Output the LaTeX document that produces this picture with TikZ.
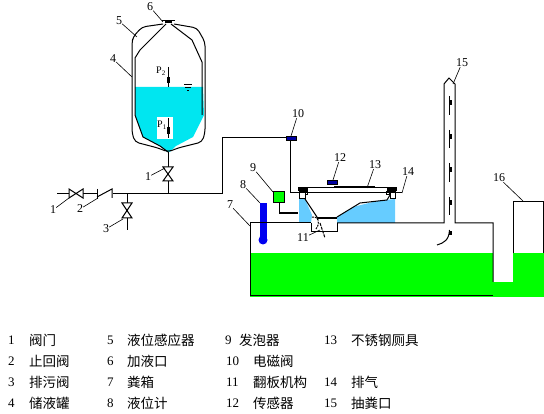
\documentclass[tikz,border=0pt]{standalone}
\usepackage{fontspec}
\setmainfont{Liberation Serif}
\newfontfamily\cjk{Noto Sans CJK SC}
\usepackage{xcolor}
\definecolor{liquidcyan}{HTML}{00E6F0}
\definecolor{bowlblue}{HTML}{66CCFF}
\definecolor{wastegreen}{HTML}{00FF00}
\definecolor{gaugeblue}{HTML}{0000F0}
\definecolor{valveblue}{HTML}{0000A0}
\tikzset{
    pipe/.style={draw=black, line width=1pt},
    thickpipe/.style={draw=black, line width=2pt},
    leader/.style={draw=black, line width=0.6pt},
    partno/.style={inner sep=0pt, font=\fontsize{12}{14}\selectfont},
    pressure/.style={inner sep=0pt, font=\fontsize{10}{11}\selectfont},
    legendno/.style={inner sep=0pt, anchor=west, font=\fontsize{13}{15}\selectfont},
    legendtext/.style={inner sep=0pt, anchor=west, font=\cjk\fontsize{13.5}{15}\selectfont},
    valvebody/.style={draw=black, fill=white, line width=1pt},
    signalbox/.style={draw=black, fill=valveblue, line width=0.6pt},
}
\begin{document}
\begin{tikzpicture}[x=1pt, y=-1pt]
    \useasboundingbox (0,0) rectangle (544,414);

    \fill[liquidcyan] (135,87) -- (203,87) -- (204,115) -- (193,137) -- (176,146) -- (170,152) -- (167,152) -- (160,146) -- (143,137) -- (135,115) -- cycle;
    \fill[white] (157,117) rectangle (173,139);
    \fill[bowlblue] (299,199) -- (305,199) -- (312,215) -- (311,223) -- (299,223) -- cycle;
    \fill[bowlblue] (337,223) -- (337,217) -- (353,207) -- (377,201) -- (395,199) -- (395,223) -- cycle;
    \fill[wastegreen] (250,253) rectangle (493,297);
    \fill[wastegreen] (493,282) rectangle (513,297);
    \fill[wastegreen] (513,253) rectangle (544,297);

    \draw[pipe, rounded corners=4pt] (163,24) -- (142,27) -- (133,37) -- (132,43) -- (132,133) -- (135,142) -- (158,148) -- (168,152) -- (178,148) -- (202,142) -- (205,133) -- (205,42) -- (197,28) -- (174,24);
    \draw[pipe] (166,24) -- (140,50) -- (135,58) -- (135,115) -- (143,137) -- (160,146) -- (168,152);
    \draw[pipe] (171,24) -- (192,40) -- (202,62) -- (202,115);
    \draw[pipe] (162,20.5) -- (175,20.5);
    \draw[thickpipe] (165,22) -- (172,22);
    \draw[pipe] (168,67) -- (168,87);
    \fill (167,77) rectangle (170,83);
    \draw[pipe] (168,118) -- (168,138);
    \fill (167,127) rectangle (170,134);
    \draw[pipe] (184,85) -- (192,85);
    \draw[pipe] (185,88) -- (191,88);
    \draw[pipe] (187,91) -- (189,91);
    \node[pressure] (ptwo) at (161,71) {P\textsubscript{2}};
    \node[pressure] (pone) at (162,125) {P\textsubscript{1}};

    \draw[pipe] (57,194) -- (69,194);
    \draw[pipe] (83,194) -- (97,194);
    \draw[pipe] (97,189) -- (97,199);
    \draw[pipe] (97,197) -- (112,189) -- (112,198);
    \draw[pipe] (113,194) -- (222,194) -- (222,138) -- (286,138);
    \draw[pipe] (168,152) -- (168,194);
    \draw[valvebody] (163,167) -- (173,167) -- (163,181) -- (173,181) -- cycle;
    \draw[valvebody] (69,189) -- (69,198) -- (83,189) -- (83,198) -- cycle;
    \draw[pipe] (127,194) -- (127,230);
    \draw[valvebody] (122,203) -- (132,203) -- (122,218) -- (132,218) -- cycle;

    \draw[signalbox] (286,136) rectangle (296,140);
    \draw[pipe] (290,140) -- (290,193) -- (298,193);
    \draw[pipe] (279,203) -- (279,213);
    \draw[thickpipe] (279,213) -- (298,213);
    \draw[fill=wastegreen, line width=1pt] (273,192) rectangle (284,203);
    \fill[gaugeblue] (260,203) rectangle (267,240);
    \fill[gaugeblue] (263,240) circle (4.5);

    \draw[pipe] (298,188) -- (397,188);
    \draw[thickpipe] (334,187.5) -- (375,187.5);
    \draw[pipe] (307,188) rectangle (387,193);
    \draw[pipe] (298,193) -- (402,193);
    \fill (298,187.5) rectangle (307,191);
    \fill (387,187.5) rectangle (397,191);
    \draw[pipe] (305,192) rectangle (307,195);
    \draw[pipe] (386,192) rectangle (389,195);
    \draw[pipe] (299,192) rectangle (305,199);
    \draw[pipe] (390,192) rectangle (395,199);
    \draw[pipe] (305,199) -- (317,217);
    \draw[pipe] (337,217) -- (360,203) -- (387,200) -- (390,195);
    \draw[thickpipe] (317,218) -- (337,218);
    \draw[signalbox] (327,180) rectangle (337,184);

    \draw[pipe] (250,296) -- (250,223) -- (311,223);
    \draw[pipe] (311,223) -- (311,232) -- (337,232) -- (337,223);
    \draw[pipe] (337,223) -- (444,223) -- (444,84) -- (449,78) -- (455,84) -- (455,223) -- (493,223) -- (493,282);
    \draw[pipe] (250,296) -- (493,296);
    \draw[pipe] (513,253) -- (513,202) -- (543,202) -- (543,253);
    \draw[pipe, dash pattern=on 2pt off 1pt] (312,217) .. controls (318,216) and (321,222) .. (316,229);
    \draw[pipe, dash pattern=on 3pt off 1pt] (320,223) -- (325,238);

    \draw[pipe] (449.5,96) -- (449.5,115);
    \fill (448.5,100) rectangle (451.5,105);
    \draw[pipe] (449.5,130) -- (449.5,148);
    \fill (448.5,134) rectangle (451.5,139);
    \draw[pipe] (449.5,163) -- (449.5,182);
    \fill (448.5,167) rectangle (451.5,172);
    \draw[pipe] (449.5,197) -- (449.5,215);
    \fill (448.5,200) rectangle (451.5,205);
    \draw[pipe] (449.5,230) .. controls (449,240) and (444,243) .. (437,245);
    \fill (448.5,231) rectangle (451.5,235);

    \coordinate (tipfive) at (137,37);
    \coordinate (tipsix) at (163,22);
    \coordinate (tipfour) at (132,77);
    \coordinate (tiponeup) at (165,168);
    \coordinate (tiponeleft) at (69,198);
    \coordinate (tiptwo) at (98,198);
    \coordinate (tipthree) at (123,219);
    \coordinate (tipten) at (291,136);
    \coordinate (tipnine) at (273,192);
    \coordinate (tipeight) at (260,203);
    \coordinate (tipseven) at (250,226);
    \coordinate (tiptwelve) at (333,180);
    \coordinate (tipthirteen) at (367,188);
    \coordinate (tipfourteen) at (402,193);
    \coordinate (tipeleven) at (320,230);
    \coordinate (tipfifteen) at (453,84);
    \coordinate (tipsixteen) at (523,201);

    \node[partno] (partsix) at (150,7) {6};
    \node[partno] (partfive) at (119,21) {5};
    \node[partno] (partfour) at (113,59) {4};
    \node[partno] (partoneup) at (148,177) {1};
    \node[partno] (partoneleft) at (53,210) {1};
    \node[partno] (parttwo) at (80,209) {2};
    \node[partno] (partthree) at (106,229) {3};
    \node[partno] (partten) at (298,114) {10};
    \node[partno] (partnine) at (253,168) {9};
    \node[partno] (parteight) at (243,185) {8};
    \node[partno] (partseven) at (230,205) {7};
    \node[partno] (parttwelve) at (340,158) {12};
    \node[partno] (partthirteen) at (375,165) {13};
    \node[partno] (partfourteen) at (408,172) {14};
    \node[partno] (parteleven) at (303,238) {11};
    \node[partno] (partfifteen) at (462,63) {15};
    \node[partno] (partsixteen) at (499,178) {16};

    \draw[leader] (partsix) -- (tipsix);
    \draw[leader] (partfive) -- (tipfive);
    \draw[leader] (partfour) -- (tipfour);
    \draw[leader] (partoneup) -- (tiponeup);
    \draw[leader] (partoneleft) -- (tiponeleft);
    \draw[leader] (parttwo) -- (tiptwo);
    \draw[leader] (partthree) -- (tipthree);
    \draw[leader] (partten) -- (tipten);
    \draw[leader] (partnine) -- (tipnine);
    \draw[leader] (parteight) -- (tipeight);
    \draw[leader] (partseven) -- (tipseven);
    \draw[leader] (parttwelve) -- (tiptwelve);
    \draw[leader] (partthirteen) -- (tipthirteen);
    \draw[leader] (partfourteen) -- (tipfourteen);
    \draw[leader] (parteleven) -- (tipeleven);
    \draw[leader] (partfifteen) -- (tipfifteen);
    \draw[leader] (partsixteen) -- (tipsixteen);

    \node[legendno] (numa) at (8,340) {1};
    \node[legendtext] (texta) at (29,340) {阀门};
    \node[legendno] (numb) at (8,361) {2};
    \node[legendtext] (textb) at (29,361) {止回阀};
    \node[legendno] (numc) at (8,382) {3};
    \node[legendtext] (textc) at (29,382) {排污阀};
    \node[legendno] (numd) at (8,403) {4};
    \node[legendtext] (textd) at (29,403) {储液罐};
    \node[legendno] (nume) at (107,340) {5};
    \node[legendtext] (texte) at (127,340) {液位感应器};
    \node[legendno] (numf) at (107,361) {6};
    \node[legendtext] (textf) at (127,361) {加液口};
    \node[legendno] (numg) at (107,382) {7};
    \node[legendtext] (textg) at (127,382) {粪箱};
    \node[legendno] (numh) at (107,403) {8};
    \node[legendtext] (texth) at (127,403) {液位计};
    \node[legendno] (numi) at (225,340) {9};
    \node[legendtext] (texti) at (239,340) {发泡器};
    \node[legendno] (numj) at (226,361) {10};
    \node[legendtext] (textj) at (253,361) {电磁阀};
    \node[legendno] (numk) at (226,382) {11};
    \node[legendtext] (textk) at (253,382) {翻板机构};
    \node[legendno] (numl) at (226,403) {12};
    \node[legendtext] (textl) at (253,403) {传感器};
    \node[legendno] (numm) at (324,340) {13};
    \node[legendtext] (textm) at (351,340) {不锈钢厕具};
    \node[legendno] (numn) at (324,382) {14};
    \node[legendtext] (textn) at (351,382) {排气};
    \node[legendno] (numo) at (324,403) {15};
    \node[legendtext] (texto) at (351,403) {抽粪口};
\end{tikzpicture}
\end{document}
